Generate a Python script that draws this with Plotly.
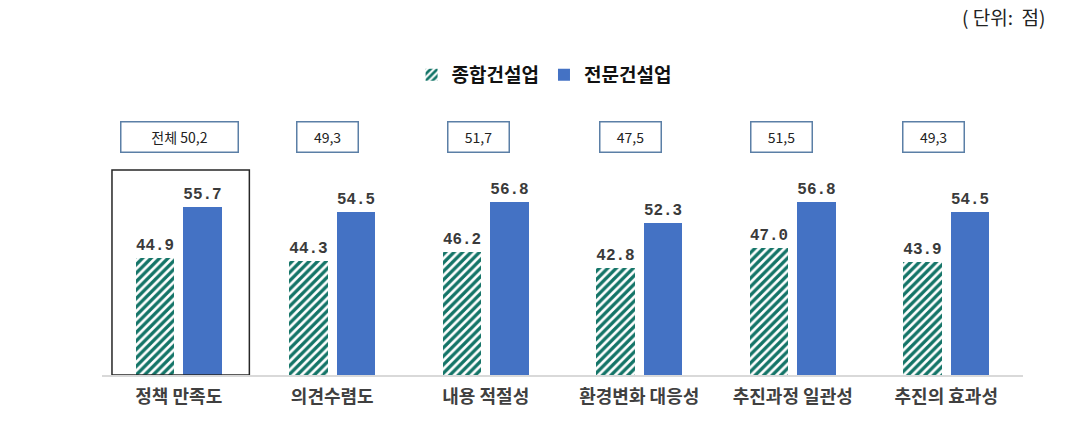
import plotly.graph_objects as go

categories = ["정책 만족도", "의견수렴도", "내용 적절성", "환경변화 대응성", "추진과정 일관성", "추진의 효과성"]
general = [44.9, 44.3, 46.2, 42.8, 47.0, 43.9]
specialty = [55.7, 54.5, 56.8, 52.3, 56.8, 54.5]
totals = ["전체 50,2", "49,3", "51,7", "47,5", "51,5", "49,3"]
series_names = ["종합건설업", "전문건설업"]

KFONT = "Noto Sans CJK KR"
xs = list(range(len(categories)))

fig = go.Figure()
fig.add_trace(go.Bar(
    x=xs, y=general, name=series_names[0], width=0.25, offset=-0.28,
    marker=dict(color="white", line=dict(width=0),
                pattern=dict(shape="/", fgcolor="#137467", bgcolor="white", fgopacity=1,
                             size=6, solidity=0.55)),
    text=[f"{v:.1f}" for v in general], textposition="outside", cliponaxis=False,
    textfont=dict(family="Liberation Mono", size=16, color="#3a3a3a", weight="bold"),
))
fig.add_trace(go.Bar(
    x=xs, y=specialty, name=series_names[1], width=0.25, offset=0.03,
    marker=dict(color="#4472C4", line=dict(width=0)),
    text=[f"{v:.1f}" for v in specialty], textposition="outside", cliponaxis=False,
    textfont=dict(family="Liberation Mono", size=16, color="#3a3a3a", weight="bold"),
))

# box around first group
fig.add_shape(type="rect", xref="x", yref="y", x0=-0.435, x1=0.46, y0=20, y1=63.5,
              line=dict(color="#262626", width=1.5), fillcolor="rgba(0,0,0,0)")

shifts = [1, -5, -7, -9, -11, -13]
for i, t in enumerate(totals):
    fig.add_annotation(x=i, xref="x", y=1.125, yref="paper", yanchor="middle", xshift=shifts[i],
                       text=t, showarrow=False,
                       font=dict(family=KFONT, size=14, color="#222222"),
                       bordercolor="#5b7fa6", borderwidth=1.5, borderpad=4,
                       bgcolor="white", width=108 if i == 0 else 52, height=21)

fig.add_annotation(x=1.026, y=1.69, xref="paper", yref="paper", xanchor="right", yanchor="middle",
                   text="( 단위:  점)", showarrow=False,
                   font=dict(family=KFONT, size=19, color="#222222"))

fig.update_layout(
    width=1091, height=432,
    margin=dict(l=102, r=68, t=163, b=57),
    paper_bgcolor="white", plot_bgcolor="white",
    showlegend=True,
    legend=dict(orientation="h", x=0.48, xanchor="center", y=1.415, yanchor="middle",
                font=dict(family=KFONT, size=19, color="#111111", weight="bold"),
                itemwidth=30, tracegroupgap=0),
    xaxis=dict(range=[-0.5, 5.5], tickmode="array", tickvals=xs, ticktext=categories,
               showgrid=False, zeroline=False, showline=True, linecolor="#d9d9d9", linewidth=1.5,
               ticks="", ticklabelstandoff=5,
               tickfont=dict(family=KFONT, size=18, color="#404040", weight="bold")),
    yaxis=dict(range=[20, 65], visible=False, showgrid=False, zeroline=False),
    bargap=0, barmode="group",
)

fig.write_html("out.html")
